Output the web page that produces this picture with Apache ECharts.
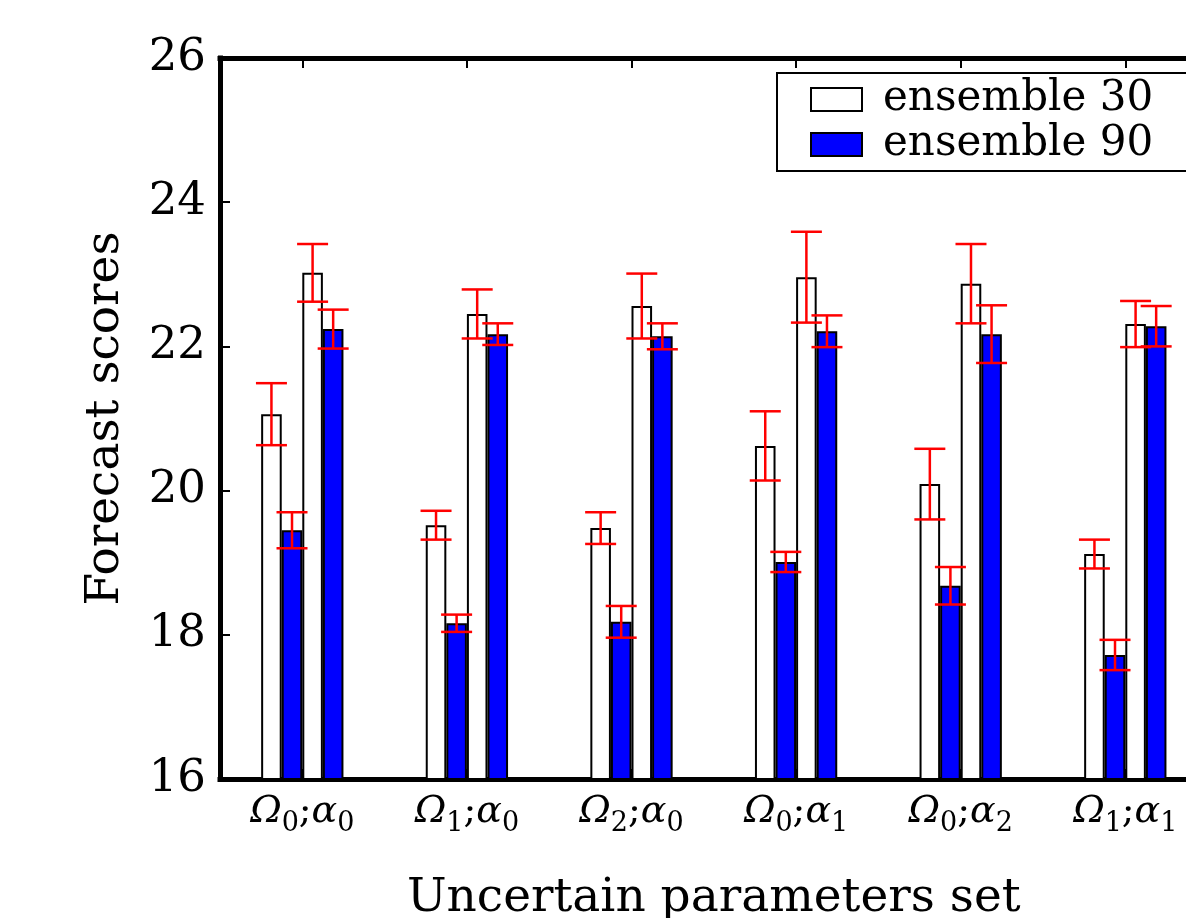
<!DOCTYPE html>
<html>
<head>
<meta charset="utf-8">
<script src="https://cdn.jsdelivr.net/npm/echarts@6/dist/echarts.min.js"></script>
<style>
  html, body { margin: 0; padding: 0; background: #fff; }
  #chart { width: 1186px; height: 918px; }
</style>
</head>
<body>
<div id="chart"></div>
<script>
// parameter sets on the x axis
const categories = ['Ω0;α0', 'Ω1;α0', 'Ω2;α0', 'Ω0;α1', 'Ω0;α2', 'Ω1;α1'];
const yTicks = [16, 18, 20, 22, 24, 26];

// bar heights (two pairs of bars per group)
const ens30a = [21.06, 19.52, 19.48, 20.62, 20.09, 19.12];
const ens90a = [19.45, 18.16, 18.18, 19.01, 18.68, 17.72];
const ens30b = [23.02, 22.45, 22.56, 22.96, 22.87, 22.31];
const ens90b = [22.24, 22.17, 22.14, 22.21, 22.17, 22.28];

// half-length of the red error bars
const err30a = [0.43, 0.20, 0.22, 0.48, 0.49, 0.20];
const err90a = [0.25, 0.12, 0.22, 0.14, 0.26, 0.21];
const err30b = [0.40, 0.34, 0.45, 0.63, 0.55, 0.32];
const err90b = [0.27, 0.15, 0.18, 0.22, 0.40, 0.28];

const FONT = 'DejaVu Serif';
const BAR_FRAC = 0.125; // each bar is 1/8 of a category band

const chart = echarts.init(document.getElementById('chart'), null, { renderer: 'canvas' });

function barSeries(name, values, color) {
  return {
    name: name,
    type: 'bar',
    data: values,
    barWidth: (BAR_FRAC * 100) + '%',
    barGap: '0%',
    itemStyle: { color: color, borderColor: '#000', borderWidth: 2 },
    emphasis: { disabled: true },
    animation: false,
    z: 2
  };
}

// error bars drawn on top of bar number k (0..3) inside each group
function errSeries(k, values, errs) {
  return {
    type: 'custom',
    data: values.map((v, i) => [i, v - errs[i], v + errs[i]]),
    renderItem: function (params, api) {
      const band = api.size([1, 0])[0];
      const bw = band * BAR_FRAC;
      const lo = api.coord([api.value(0), api.value(1)]);
      const hi = api.coord([api.value(0), api.value(2)]);
      const x = lo[0] + (k - 1.5) * bw;
      const cap = 15.5;
      const style = { stroke: '#ff0000', lineWidth: 2.5 };
      return {
        type: 'group',
        children: [
          { type: 'line', shape: { x1: x, y1: lo[1], x2: x, y2: hi[1] }, style: style },
          { type: 'line', shape: { x1: x - cap, y1: lo[1], x2: x + cap, y2: lo[1] }, style: style },
          { type: 'line', shape: { x1: x - cap, y1: hi[1], x2: x + cap, y2: hi[1] }, style: style }
        ]
      };
    },
    animation: false,
    silent: true,
    z: 5
  };
}

const spine = { show: true, lineStyle: { color: '#000', width: 5, cap: 'square' } };

chart.setOption({
  backgroundColor: '#fff',
  animation: false,
  grid: { left: 220, top: 58, width: 987.6, height: 721, outerBoundsMode: 'none', containLabel: false },
  legend: {
    orient: 'vertical',
    left: 777,
    top: 73,
    data: ['ensemble 30', 'ensemble 90'],
    icon: 'rect',
    itemWidth: 51,
    itemHeight: 23,
    itemGap: 0,
    padding: [4, 80, 4, 33],
    borderColor: '#000',
    borderWidth: 2,
    backgroundColor: '#fff',
    selectedMode: false,
    textStyle: { fontFamily: FONT, fontSize: 42, color: '#000', lineHeight: 45, padding: [0, 0, 0, 16] },
    z: 10
  },
  xAxis: [
    {
      type: 'category',
      data: categories,
      position: 'bottom',
      axisLine: spine,
      axisTick: { show: true, inside: true, alignWithLabel: true, length: 10, lineStyle: { color: '#000', width: 2 } },
      axisLabel: {
        margin: 8,
        interval: 0,
        formatter: function (v) {
          return v.replace(/Ω(\d);α(\d)/, '{o|Ω}{s|$1}{n|;}{o|α}{s|$2}');
        },
        rich: {
          o: { fontFamily: FONT, fontStyle: 'italic', fontSize: 38, color: '#000', lineHeight: 50, verticalAlign: 'middle' },
          n: { fontFamily: FONT, fontSize: 38, color: '#000', lineHeight: 50, verticalAlign: 'middle' },
          s: { fontFamily: FONT, fontSize: 27, color: '#000', lineHeight: 27, verticalAlign: 'bottom' }
        }
      },
      splitLine: { show: false },
      name: 'Uncertain parameters set',
      nameLocation: 'middle',
      nameGap: 96,
      nameTextStyle: { fontFamily: FONT, fontSize: 47, color: '#000' }
    },
    {
      type: 'category',
      data: categories,
      position: 'top',
      axisLine: spine,
      axisTick: { show: true, inside: true, alignWithLabel: true, length: 10, lineStyle: { color: '#000', width: 2 } },
      axisLabel: { show: false },
      splitLine: { show: false }
    }
  ],
  yAxis: {
    type: 'value',
    min: yTicks[0],
    max: yTicks[yTicks.length - 1],
    interval: 2,
    axisLine: spine,
    axisTick: { show: true, inside: true, length: 10, lineStyle: { color: '#000', width: 2 } },
    axisLabel: { fontFamily: FONT, fontSize: 45, color: '#000', margin: 14 },
    splitLine: { show: false },
    name: 'Forecast scores',
    nameLocation: 'middle',
    nameGap: 91,
    nameTextStyle: { fontFamily: FONT, fontSize: 47, color: '#000' }
  },
  series: [
    barSeries('ensemble 30', ens30a, '#ffffff'),
    barSeries('ensemble 90', ens90a, '#0000ff'),
    barSeries('ensemble 30', ens30b, '#ffffff'),
    barSeries('ensemble 90', ens90b, '#0000ff'),
    errSeries(0, ens30a, err30a),
    errSeries(1, ens90a, err90a),
    errSeries(2, ens30b, err30b),
    errSeries(3, ens90b, err90b)
  ]
});
</script>
</body>
</html>
